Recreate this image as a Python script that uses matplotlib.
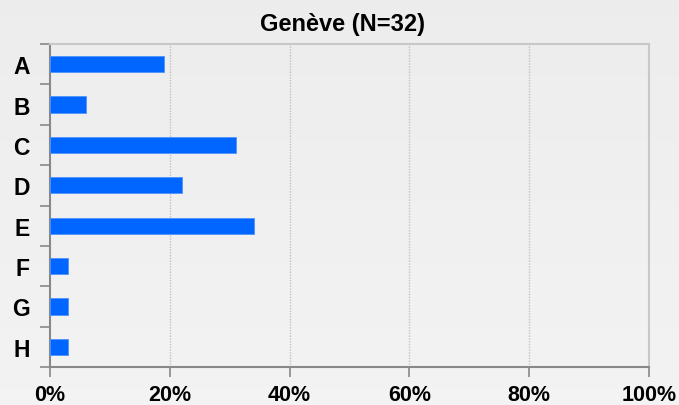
import numpy as np
import matplotlib.pyplot as plt

# data (share of respondents, N=32)
categories = ["A", "B", "C", "D", "E", "F", "G", "H"]
values = [19, 6, 31, 22, 34, 3, 3, 3]
xticks = [0, 20, 40, 60, 80, 100]
title = "Genève (N=32)"

plt.rcParams['font.family'] = ['Liberation Sans', 'DejaVu Sans']

fig = plt.figure(figsize=(6.79, 4.06), dpi=100)
fig.patch.set_facecolor('#eeeeee')

# soft vertical background gradient
bg = fig.add_axes([0, 0, 1, 1], zorder=-10)
bg.imshow(np.linspace(0.925, 0.95, 100)[:, None], cmap='gray', vmin=0, vmax=1,
          aspect='auto', extent=[0, 1, 0, 1])
bg.axis('off')

ax = fig.add_axes([50 / 679, 1 - 368 / 406, 599 / 679, 323 / 406])
ax.set_facecolor('none')

y = np.arange(len(categories))
ax.barh(y, values, height=0.4, color='#0066ff', edgecolor='#4d94ff', linewidth=0.6, zorder=3)

ax.set_xlim(0, 100)
ax.set_ylim(len(categories) - 0.5, -0.5)

ax.set_xticks(xticks)
ax.set_xticklabels([f"{t}%" for t in xticks], fontsize=15.5, fontweight='bold')
ax.set_yticks(y)
ax.set_yticklabels(categories, fontsize=16.5, fontweight='bold')
ax.set_yticks(np.arange(-0.5, len(categories)), minor=True)

ax.tick_params(axis='y', which='major', length=0, pad=14.5)
ax.tick_params(axis='y', which='minor', length=7, width=1.2, color='#888888')
ax.tick_params(axis='x', length=7, width=1.2, color='#888888', pad=5)

for t in [20, 40, 60, 80]:
    ax.axvline(t, color='#c2c2c2', linestyle=(0, (1, 1)), linewidth=1, zorder=1)

for side in ['left', 'bottom']:
    ax.spines[side].set_color('#888888')
    ax.spines[side].set_linewidth(1.5)
for side in ['top', 'right']:
    ax.spines[side].set_color('#c8c8c8')
    ax.spines[side].set_linewidth(1.5)

# title is centred on the figure rather than on the plot area
ax.set_title(title, fontsize=17, fontweight='bold', pad=10, x=0.488)

fig.savefig('out.png', dpi=100, facecolor=fig.get_facecolor())
